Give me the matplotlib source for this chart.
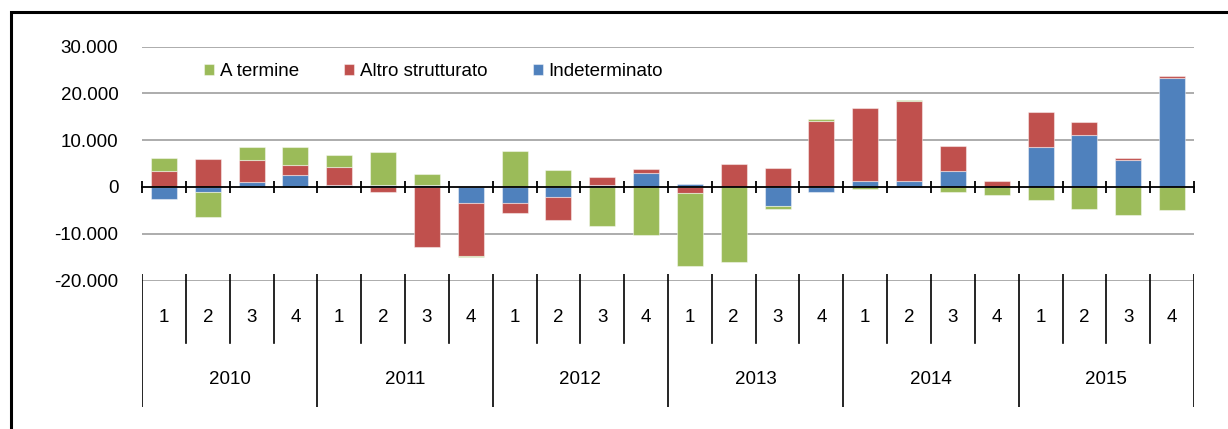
import numpy as np
import matplotlib.pyplot as plt
from matplotlib.patches import Rectangle
from matplotlib.ticker import FuncFormatter

# Dati (saldi trimestrali per tipologia di contratto)
anni = ["2010", "2011", "2012", "2013", "2014", "2015"]
trimestri = ["1", "2", "3", "4"]

indeterminato = [-2500, -1000, 1150, 2500, 500, 500, 450, -3450,
                 -3500, -2200, 350, 2900, 650, 0, -4050, -1050,
                 1300, 1300, 3350, 0, 8500, 11200, 5800, 23200]
altro = [3450, 6000, 4550, 2300, 3850, -1000, -12850, -11350,
         -2150, -4950, 1700, 950, -1350, 4850, 4150, 14200,
         15650, 17000, 5350, 1300, 7500, 2650, 300, 550]
a_termine = [2700, -5350, 2950, 3650, 2450, 7000, 2350, -200,
             7650, 3650, -8350, -10200, -15500, -16150, -700, 300,
             -500, 300, -1000, -1700, -2850, -4700, -6000, -4950]

serie = [("Indeterminato", indeterminato, "#4F81BD"),
         ("Altro strutturato", altro, "#C0504D"),
         ("A termine", a_termine, "#9BBB59")]

plt.rcParams["font.family"] = ["Liberation Sans", "DejaVu Sans"]
plt.rcParams["font.size"] = 13.5

W, H = 1228, 429
fig = plt.figure(figsize=(W / 100, H / 100), dpi=100)

x0, x1 = 142, 1194
y_top, y_bot = 46.7, 280.5
ax = fig.add_axes([x0 / W, 1 - y_bot / H, (x1 - x0) / W, (y_bot - y_top) / H])

n = len(indeterminato)
x = np.arange(n)
pos = np.zeros(n)
neg = np.zeros(n)
handles = {}
for nome, valori, colore in serie:
    v = np.array(valori, dtype=float)
    base = np.where(v >= 0, pos, neg)
    b = ax.bar(x, v, width=0.59, bottom=base, color=colore,
               edgecolor=(1, 1, 1, 0.45), linewidth=0.8, zorder=3)
    handles[nome] = b
    pos += np.where(v >= 0, v, 0)
    neg += np.where(v < 0, v, 0)

ax.set_xlim(-0.5, n - 0.5)
ax.set_ylim(-20000, 30000)
ax.set_yticks([-20000, -10000, 0, 10000, 20000, 30000])
ax.yaxis.set_major_formatter(FuncFormatter(lambda v, p: f"{v:,.0f}".replace(",", ".")))
ax.tick_params(axis="y", length=0, pad=17)
for t in [-20000, -10000, 10000, 20000, 30000]:
    ax.axhline(t, color="#A6A6A6", linewidth=1.3, zorder=1)

# asse zero con le tacche tra i trimestri
for s in ["top", "right", "left"]:
    ax.spines[s].set_visible(False)
ax.spines["bottom"].set_position(("data", 0))
ax.spines["bottom"].set_linewidth(1.3)
ax.spines["bottom"].set_zorder(4)
ax.set_xticks(np.arange(n + 1) - 0.5)
ax.tick_params(axis="x", direction="inout", length=9, width=1.3, labelbottom=False)

leg = ax.legend([handles["A termine"], handles["Altro strutturato"], handles["Indeterminato"]],
                ["A termine", "Altro strutturato", "Indeterminato"],
                ncol=3, loc="center left", bbox_to_anchor=(0.059, 0.892),
                frameon=False, borderpad=0, borderaxespad=0,
                handlelength=0.55, handleheight=0.55, handletextpad=0.3,
                columnspacing=2.4)

# etichette di categoria a due livelli
cy_top, cy_bot = 274, 407
cax = fig.add_axes([x0 / W, 1 - cy_bot / H, (x1 - x0) / W, (cy_bot - cy_top) / H])
cax.set_xlim(-0.5, n - 0.5)
cax.set_ylim(0, 1)
cax.axis("off")
q_low = (cy_bot - 343) / (cy_bot - cy_top)
for i in range(n + 1):
    low = 0 if i % 4 == 0 else q_low
    cax.plot([i - 0.5, i - 0.5], [low, 1], color="black", linewidth=1.2)
for i in range(n):
    cax.text(i, (cy_bot - 317) / (cy_bot - cy_top), trimestri[i % 4],
             ha="center", va="center")
for k, anno in enumerate(anni):
    cax.text(4 * k + 1.5, (cy_bot - 380) / (cy_bot - cy_top), anno,
             ha="center", va="center")

# cornice esterna
fig.add_artist(Rectangle((11 / W, -0.5), 2, 0.5 + (1 - 12 / H), transform=fig.transFigure,
                         fill=False, edgecolor="black", linewidth=2.2))

plt.savefig("out.png", dpi=100)
